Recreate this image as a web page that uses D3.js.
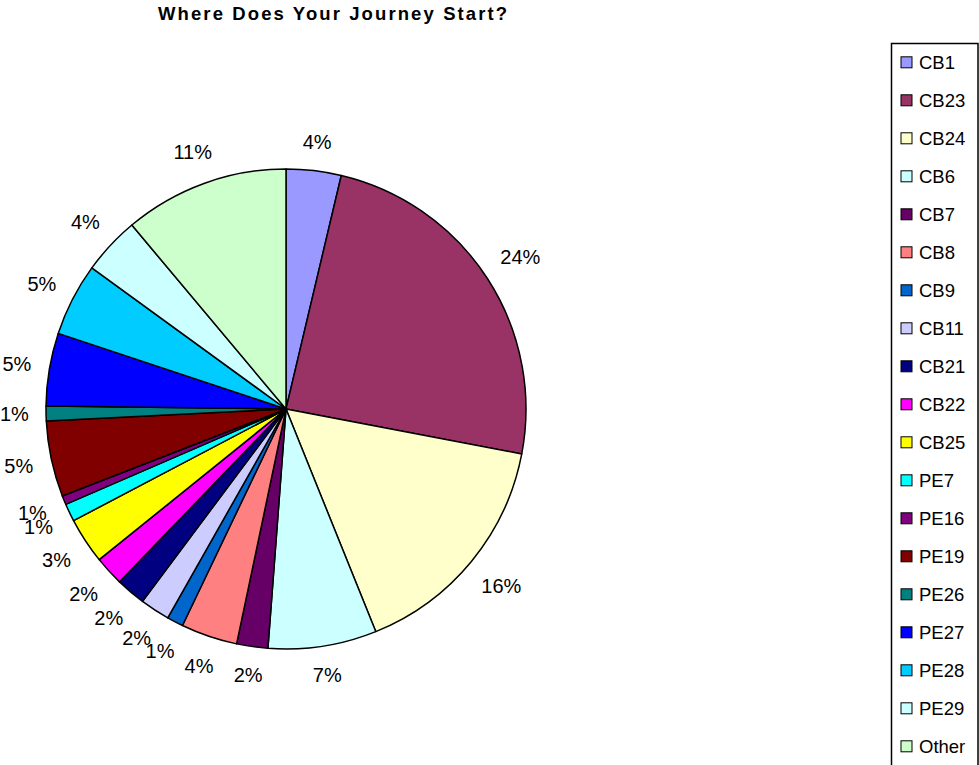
<!DOCTYPE html>
<html>
<head>
<meta charset="utf-8">
<script src="https://cdn.jsdelivr.net/npm/d3@7"></script>
<style>
  body { margin: 0; background: #fff; }
  svg { display: block; font-family: Arial, "Liberation Sans", sans-serif; }
</style>
</head>
<body>
<script>
// chart size
const width = 979;
const height = 765;

// data (share of answers per start postcode, %)
const categories = ['CB1', 'CB23', 'CB24', 'CB6', 'CB7', 'CB8', 'CB9', 'CB11', 'CB21', 'CB22',
                    'CB25', 'PE7', 'PE16', 'PE19', 'PE26', 'PE27', 'PE28', 'PE29', 'Other'];
const shares = [3.7, 24.3, 15.9, 7.3, 2.1, 3.8, 1.1, 2.0, 2.0, 2.0,
                3.1, 1.2, 0.6, 5.1, 1.0, 4.9, 4.9, 3.9, 11.1];
const colors = ['#9999FF', '#993366', '#FFFFCC', '#CCFFFF', '#660066', '#FF8080', '#0066CC', '#CCCCFF', '#000080', '#FF00FF',
                '#FFFF00', '#00FFFF', '#800080', '#800000', '#008080', '#0000FF', '#00CCFF', '#CCFFFF', '#CCFFCC'];
const title = 'Where Does Your Journey Start?';

// pie geometry
const cx = 286, cy = 409, radius = 240;
const labelGap = 17;

const total = d3.sum(shares);
const pct = d3.format('.0%');

const svg = d3.select('body').append('svg').attr('width', width).attr('height', height);

svg.append('text')
    .attr('x', 158)
    .attr('y', 19.5)
    .attr('font-size', '18.5px')
    .attr('font-weight', 'bold')
    .attr('letter-spacing', '2.1px')
    .text(title);

const pie = d3.pie().sort(null).value(d => d);
const arc = d3.arc().innerRadius(0).outerRadius(radius);
const arcs = pie(shares);

const g = svg.append('g').attr('transform', 'translate(' + cx + ',' + cy + ')');

g.selectAll('path')
    .data(arcs)
    .enter()
    .append('path')
    .attr('d', arc)
    .attr('fill', (d, i) => colors[i])
    .attr('stroke', '#000')
    .attr('stroke-width', 1.5)
    .attr('stroke-linejoin', 'round');

// labels sit just outside the rim, pushed out by half their box
const labels = g.selectAll('text.lbl')
    .data(arcs)
    .enter()
    .append('text')
    .attr('class', 'lbl')
    .attr('font-size', '20px')
    .attr('text-anchor', 'middle')
    .attr('dominant-baseline', 'central')
    .text(d => pct(d.value / total));

labels.each(function(d) {
    const a = (d.startAngle + d.endAngle) / 2;
    const w = this.getComputedTextLength();
    const h = 20;
    const r = radius + labelGap + (w / 2) * Math.abs(Math.sin(a)) + (h / 2) * Math.abs(Math.cos(a));
    d3.select(this)
        .attr('x', r * Math.sin(a))
        .attr('y', -r * Math.cos(a));
});

// legend
const legendX = 891, legendY = 43, rowStep = 38, firstRow = 19.3;
const legend = svg.append('g').attr('transform', 'translate(' + legendX + ',' + legendY + ')');

legend.append('rect')
    .attr('x', 0.5)
    .attr('y', 0.5)
    .attr('width', 86.5)
    .attr('height', firstRow + rowStep * categories.length)
    .attr('fill', '#fff')
    .attr('stroke', '#000')
    .attr('stroke-width', 1.5);

const rows = legend.selectAll('g.row')
    .data(categories)
    .enter()
    .append('g')
    .attr('class', 'row')
    .attr('transform', (d, i) => 'translate(0,' + (firstRow + i * rowStep) + ')');

rows.append('rect')
    .attr('x', 10)
    .attr('y', -5.5)
    .attr('width', 11)
    .attr('height', 11)
    .attr('fill', (d, i) => colors[i])
    .attr('stroke', '#000')
    .attr('stroke-width', 1);

rows.append('text')
    .attr('x', 28)
    .attr('y', 0)
    .attr('dominant-baseline', 'central')
    .attr('font-size', '18.5px')
    .text(d => d);
</script>
</body>
</html>
